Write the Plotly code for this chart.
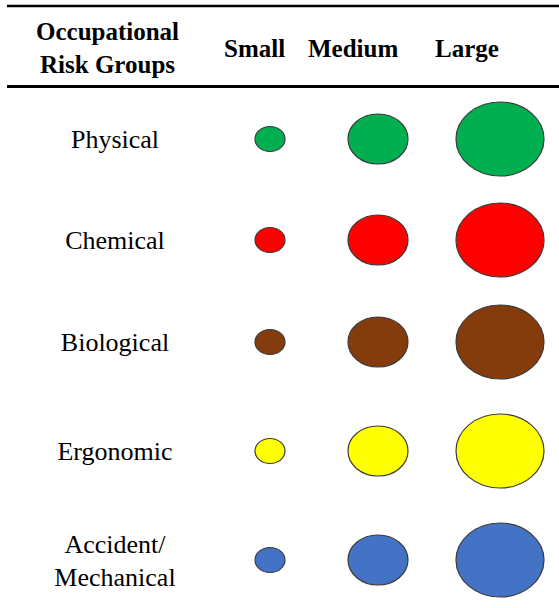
import plotly.graph_objects as go

# ---- data ----
groups = ["Physical", "Chemical", "Biological", "Ergonomic", "Accident/<br>Mechanical"]
sizes = ["Small", "Medium", "Large"]
group_colors = ["#00B050", "#FF0000", "#843C0C", "#FFFF00", "#4472C4"]
header_first = "Occupational<br>Risk Groups"

# ---- layout constants (pixel-like data space) ----
W, H = 559, 608
row_y = [139, 240, 342, 451, 560]
label_y = [141, 242, 344, 453, 563]
label_x = 115
col_x = {"Small": 270, "Medium": 378, "Large": 500}
head_x = {"Small": 254, "Medium": 353, "Large": 467}
mark_w = {"Small": 30, "Medium": 60, "Large": 88}
mark_h = {"Small": 25, "Medium": 50, "Large": 74}
SERIF = "Liberation Serif, Times New Roman, serif"

fig = go.Figure()

# row labels
fig.add_trace(go.Scatter(
    x=[label_x] * len(groups), y=label_y, text=groups, mode="text",
    textposition="middle center",
    textfont=dict(family=SERIF, size=26, color="black"),
    hoverinfo="skip", showlegend=False))

shapes = []
for gi, g in enumerate(groups):
    for s in sizes:
        cx, cy = col_x[s], row_y[gi]
        shapes.append(dict(
            type="circle", xref="x", yref="y",
            x0=cx - mark_w[s] / 2, x1=cx + mark_w[s] / 2,
            y0=cy - mark_h[s] / 2, y1=cy + mark_h[s] / 2,
            fillcolor=group_colors[gi],
            line=dict(color="#3a3a3a", width=1.2)))

# table rules
shapes.append(dict(type="line", xref="x", yref="y", x0=7, x1=W, y0=6, y1=6,
                   line=dict(color="black", width=2.5)))
shapes.append(dict(type="line", xref="x", yref="y", x0=7, x1=W, y0=86.5, y1=86.5,
                   line=dict(color="black", width=3)))

annotations = [dict(x=107, y=48, xref="x", yref="y", text="<b>" + header_first + "</b>",
                    showarrow=False, xanchor="center", yanchor="middle",
                    font=dict(family=SERIF, size=25, color="black"))]
for s in sizes:
    annotations.append(dict(x=head_x[s], y=48, xref="x", yref="y", text="<b>" + s + "</b>",
                            showarrow=False, xanchor="center", yanchor="middle",
                            font=dict(family=SERIF, size=25, color="black")))

fig.update_layout(
    width=W, height=H, margin=dict(l=0, r=0, t=0, b=0),
    paper_bgcolor="white", plot_bgcolor="white",
    xaxis=dict(range=[0, W], visible=False, fixedrange=True),
    yaxis=dict(range=[H, 0], visible=False, fixedrange=True),
    shapes=shapes, annotations=annotations, showlegend=False,
    hovermode=False)

fig.write_html("out.html", config={"displayModeBar": False, "staticPlot": True},
               post_script="document.body.style.margin='0';document.body.style.overflow='hidden';")
